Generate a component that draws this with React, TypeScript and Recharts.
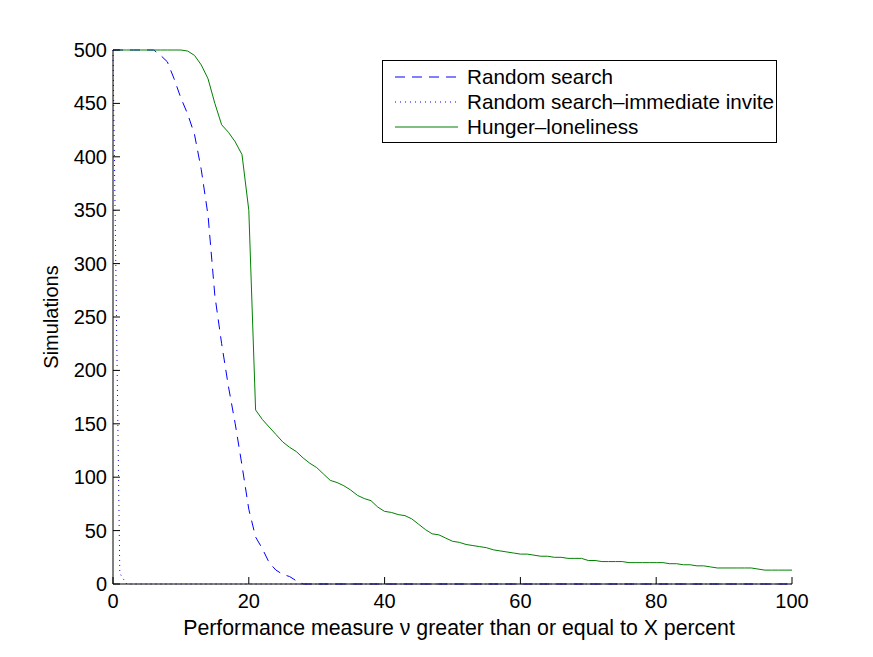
import React from 'react';
import { LineChart, Line, XAxis, YAxis, Legend } from 'recharts';

// x: performance measure threshold (percent)
const percent: number[] = Array.from({ length: 101 }, (_, i) => i);

const randomSearch: number[] = [
  500, 500, 500, 500, 500, 500, 500, 495, 489, 473,
  455, 440, 421, 388, 345, 270, 225, 185, 150, 111,
  70, 44, 33, 20, 13, 9, 7, 3, 0, 0,
  0, 0, 0, 0, 0, 0, 0, 0, 0, 0,
  0, 0, 0, 0, 0, 0, 0, 0, 0, 0,
  0, 0, 0, 0, 0, 0, 0, 0, 0, 0,
  0, 0, 0, 0, 0, 0, 0, 0, 0, 0,
  0, 0, 0, 0, 0, 0, 0, 0, 0, 0,
  0, 0, 0, 0, 0, 0, 0, 0, 0, 0,
  0, 0, 0, 0, 0, 0, 0, 0, 0, 0,
  0,
];

const immediateInvite: number[] = [
  500, 10, 0, 0, 0, 0, 0, 0, 0, 0,
  0, 0, 0, 0, 0, 0, 0, 0, 0, 0,
  0, 0, 0, 0, 0, 0, 0, 0, 0, 0,
  0, 0, 0, 0, 0, 0, 0, 0, 0, 0,
  0, 0, 0, 0, 0, 0, 0, 0, 0, 0,
  0, 0, 0, 0, 0, 0, 0, 0, 0, 0,
  0, 0, 0, 0, 0, 0, 0, 0, 0, 0,
  0, 0, 0, 0, 0, 0, 0, 0, 0, 0,
  0, 0, 0, 0, 0, 0, 0, 0, 0, 0,
  0, 0, 0, 0, 0, 0, 0, 0, 0, 0,
  0,
];

const hungerLoneliness: number[] = [
  500, 500, 500, 500, 500, 500, 500, 500, 500, 500,
  500, 499, 495, 486, 473, 450, 430, 423, 414, 402,
  350, 163, 154, 147, 140, 133, 128, 124, 118, 113,
  109, 103, 97, 95, 92, 88, 83, 80, 78, 72,
  68, 67, 65, 64, 61, 56, 51, 47, 46, 43,
  40, 39, 37, 36, 35, 34, 32, 31, 30, 29,
  28, 28, 27, 26, 26, 25, 25, 24, 24, 24,
  22, 22, 21, 21, 21, 21, 20, 20, 20, 20,
  20, 20, 19, 19, 18, 18, 17, 17, 16, 15,
  15, 15, 15, 15, 15, 14, 13, 13, 13, 13,
  13,
];

const xTicks: number[] = [0, 20, 40, 60, 80, 100];
const yTicks: number[] = [0, 50, 100, 150, 200, 250, 300, 350, 400, 450, 500];

const seriesNames = ['Random search', 'Random search\u2013immediate invite', 'Hunger\u2013loneliness'];
const xLabel = 'Performance measure \u03bd greater than or equal to X percent';
const yLabel = 'Simulations';

const data = percent.map((p, i) => ({
  p,
  rs: randomSearch[i],
  rsi: immediateInvite[i],
  hl: hungerLoneliness[i],
}));

const FONT = '"Liberation Sans", Arial, Helvetica, sans-serif';
const FS = 20;
const LABEL_FS = 21.3;
const LEGEND_FS = 20.7;
const TICK = 7;
const BLUE = '#0000ff';
const GREEN = '#008000';

const BottomTick = (props: any) => {
  const { x, y, payload } = props;
  return (
    <g>
      <line x1={x} x2={x} y1={y} y2={y - TICK} stroke="#000" strokeWidth={1} />
      <text x={x} y={y + 24} textAnchor="middle" fontSize={FS} fontFamily={FONT} fill="#000">
        {payload.value}
      </text>
    </g>
  );
};

const TopTick = (props: any) => {
  const { x, y } = props;
  return <line x1={x} x2={x} y1={y} y2={y + TICK} stroke="#000" strokeWidth={1} />;
};

const LeftTick = (props: any) => {
  const { x, y, payload } = props;
  return (
    <g>
      <line x1={x} x2={x + TICK} y1={y} y2={y} stroke="#000" strokeWidth={1} />
      <text x={x - 6} y={y + 7} textAnchor="end" fontSize={FS} fontFamily={FONT} fill="#000">
        {payload.value}
      </text>
    </g>
  );
};

const RightTick = (props: any) => {
  const { x, y } = props;
  return <line x1={x} x2={x - TICK} y1={y} y2={y} stroke="#000" strokeWidth={1} />;
};

const XLabel = (props: any) => {
  const vb = props.viewBox || {};
  const cx = vb.x + vb.width / 2 + 6.5;
  return (
    <text x={cx} y={vb.y + 51} textAnchor="middle" fontSize={LABEL_FS} fontFamily={FONT} fill="#000">
      {xLabel}
    </text>
  );
};

const YLabel = (props: any) => {
  const vb = props.viewBox || {};
  const x = vb.x + vb.width - 55;
  const cy = vb.y + vb.height / 2;
  return (
    <text
      x={x}
      y={cy}
      transform={`rotate(-90 ${x} ${cy})`}
      textAnchor="middle"
      fontSize={FS}
      fontFamily={FONT}
      fill="#000"
    >
      {yLabel}
    </text>
  );
};

const legendStyles = [
  { color: BLUE, dash: '10 7' },
  { color: BLUE, dash: '1 4' },
  { color: GREEN, dash: undefined as string | undefined },
];

const LegendBox = () => (
  <svg width={396} height={84} style={{ display: 'block' }}>
    <rect x={0.5} y={0.5} width={394} height={82} fill="#fff" stroke="#000" strokeWidth={1} />
    {seriesNames.map((name, i) => {
      const cy = 17 + i * 25;
      return (
        <g key={name}>
          <line
            x1={13}
            x2={76}
            y1={cy}
            y2={cy}
            stroke={legendStyles[i].color}
            strokeWidth={1}
            strokeDasharray={legendStyles[i].dash}
          />
          <text x={85} y={cy + 7} fontSize={LEGEND_FS} fontFamily={FONT} fill="#000">
            {name}
          </text>
        </g>
      );
    })}
  </svg>
);

export default function App() {
  return (
    <div style={{ width: 860, height: 640, background: '#fff' }}>
      <LineChart
        width={860}
        height={640}
        data={data}
        margin={{ top: 42, right: 76, bottom: 24, left: 45 }}
        style={{ fontFamily: FONT }}
      >
        <XAxis
          xAxisId="b"
          dataKey="p"
          type="number"
          domain={[0, 100]}
          ticks={xTicks}
          interval={0}
          height={40}
          tickSize={0}
          tickMargin={0}
          tickLine={false}
          axisLine={{ stroke: '#000', strokeWidth: 1 }}
          tick={BottomTick}
          label={{ content: XLabel }}
        />
        <XAxis
          xAxisId="t"
          orientation="top"
          dataKey="p"
          type="number"
          domain={[0, 100]}
          ticks={xTicks}
          interval={0}
          height={0}
          tickSize={0}
          tickMargin={0}
          tickLine={false}
          axisLine={{ stroke: '#000', strokeWidth: 1 }}
          tick={TopTick}
        />
        <YAxis
          yAxisId="l"
          type="number"
          domain={[0, 500]}
          ticks={yTicks}
          interval={0}
          width={60}
          tickSize={0}
          tickMargin={0}
          tickLine={false}
          axisLine={{ stroke: '#000', strokeWidth: 1 }}
          tick={LeftTick}
          label={{ content: YLabel }}
        />
        <YAxis
          yAxisId="r"
          orientation="right"
          type="number"
          domain={[0, 500]}
          ticks={yTicks}
          interval={0}
          width={0}
          tickSize={0}
          tickMargin={0}
          tickLine={false}
          axisLine={{ stroke: '#000', strokeWidth: 1 }}
          tick={RightTick}
        />
        <Legend
          layout="horizontal"
          verticalAlign="middle"
          align="center"
          content={LegendBox}
          wrapperStyle={{ position: 'absolute', left: 374, top: 52, width: 396, height: 84 }}
        />
        <Line
          xAxisId="b"
          yAxisId="l"
          type="linear"
          dataKey="rs"
          name={seriesNames[0]}
          stroke={BLUE}
          strokeWidth={1}
          strokeDasharray="10 7"
          dot={false}
          activeDot={false}
          isAnimationActive={false}
        />
        <Line
          xAxisId="b"
          yAxisId="l"
          type="linear"
          dataKey="rsi"
          name={seriesNames[1]}
          stroke={BLUE}
          strokeWidth={1}
          strokeDasharray="1 4"
          dot={false}
          activeDot={false}
          isAnimationActive={false}
        />
        <Line
          xAxisId="b"
          yAxisId="l"
          type="linear"
          dataKey="hl"
          name={seriesNames[2]}
          stroke={GREEN}
          strokeWidth={1}
          dot={false}
          activeDot={false}
          isAnimationActive={false}
        />
      </LineChart>
    </div>
  );
}
